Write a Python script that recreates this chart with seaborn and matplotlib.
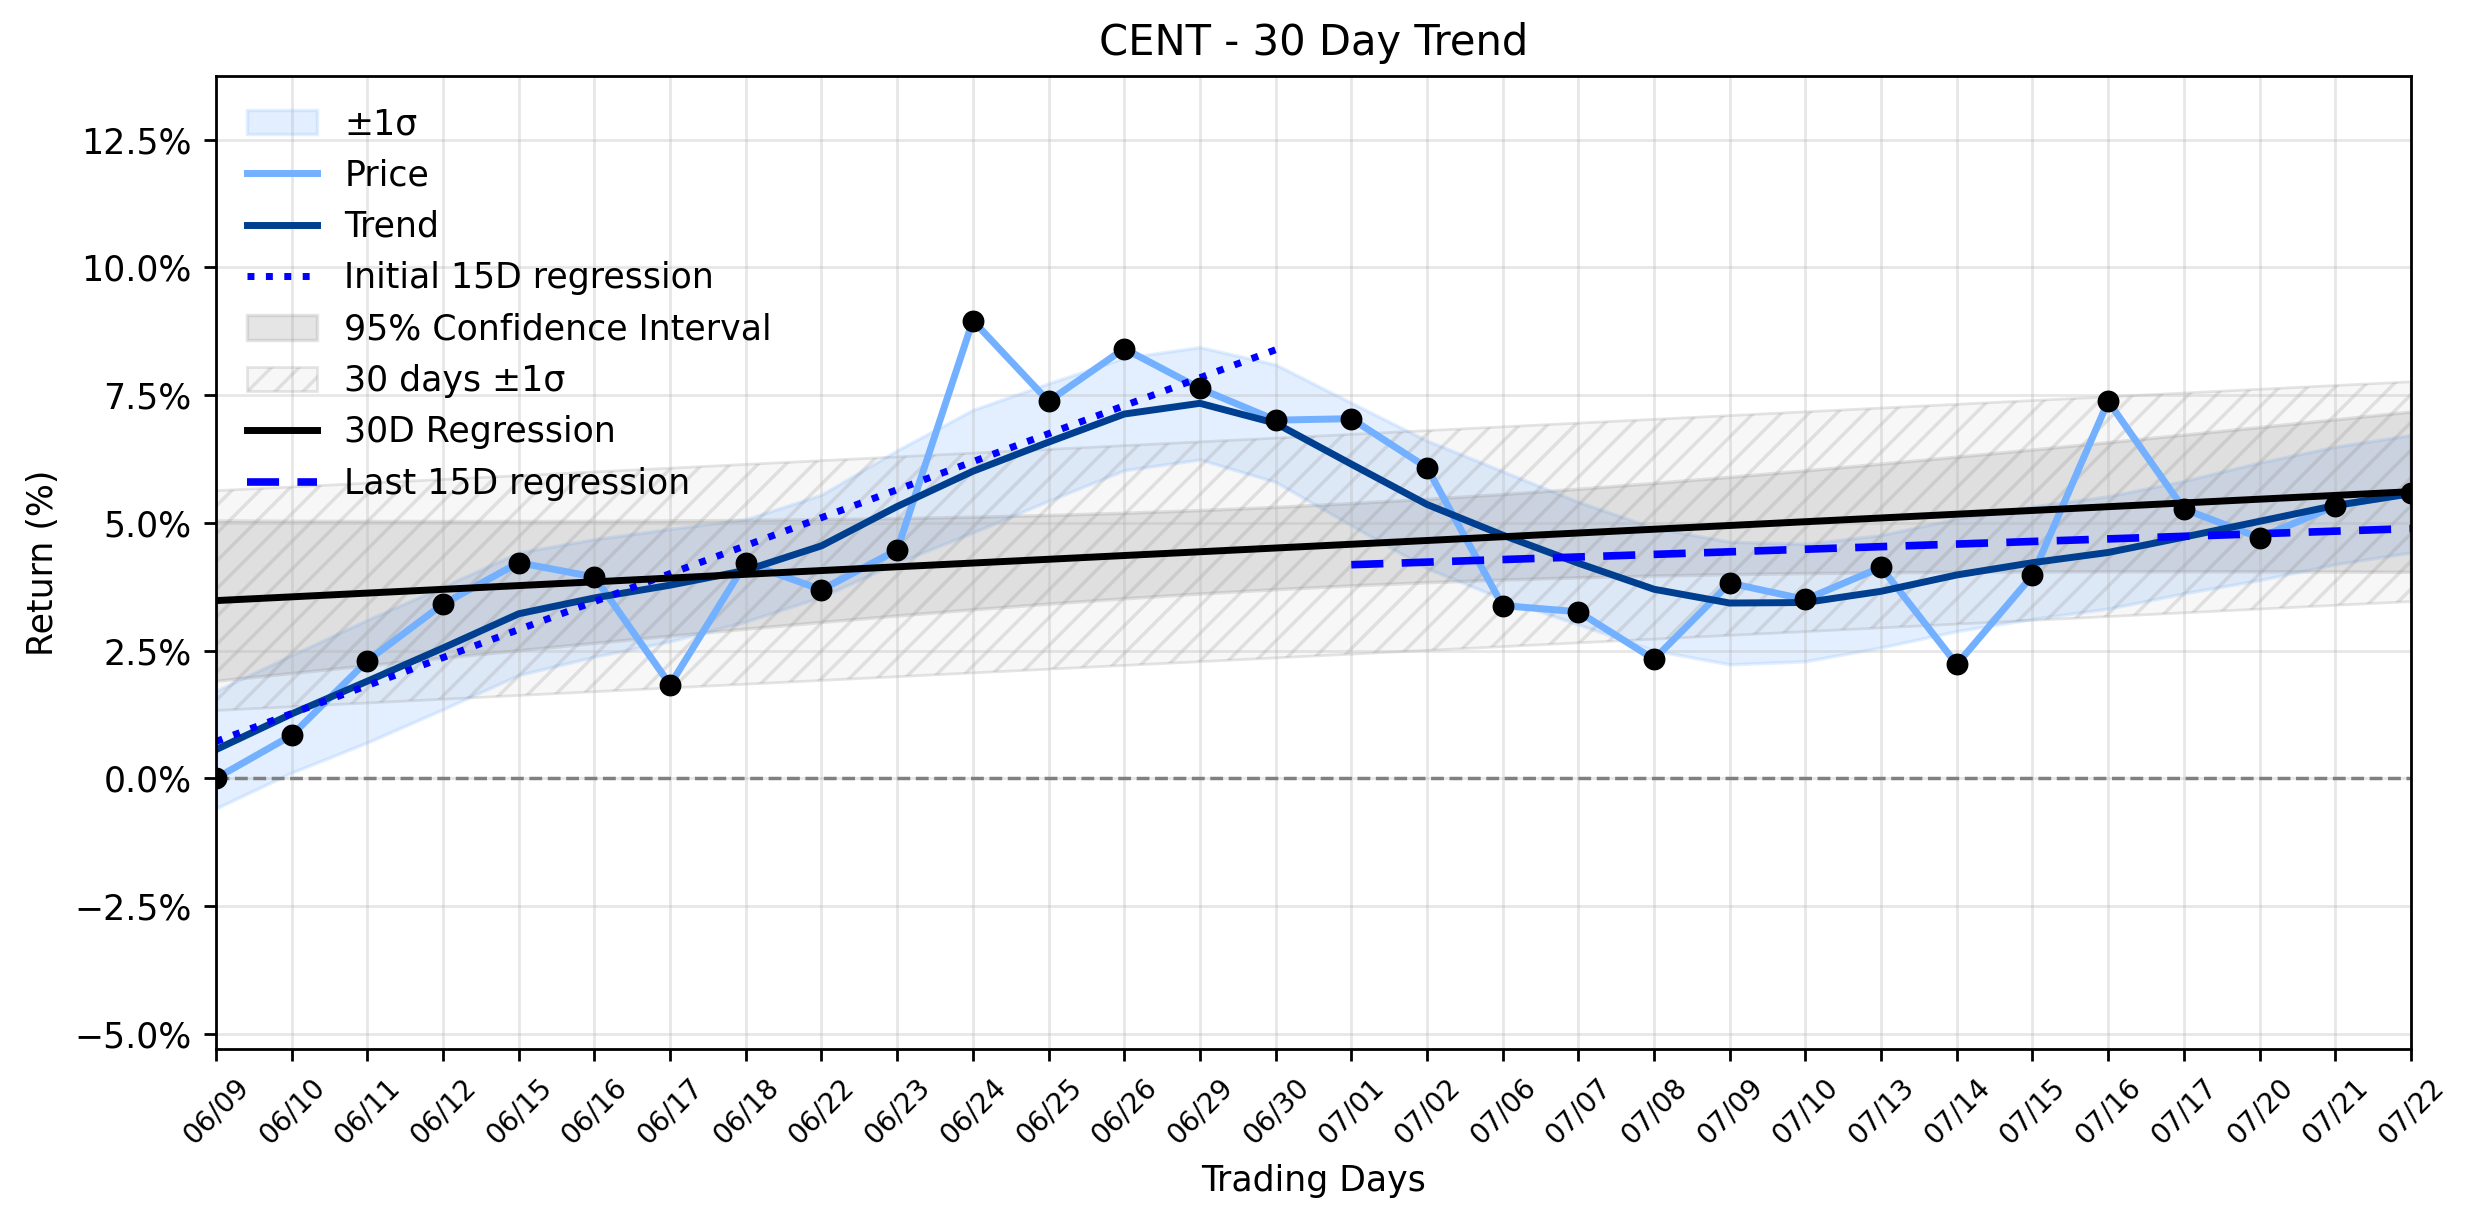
import numpy as np
import matplotlib
matplotlib.use("Agg")
import matplotlib.pyplot as plt
import seaborn as sns
from matplotlib.ticker import PercentFormatter, MultipleLocator

# Data (returns in %)
dates = ['06/09', '06/10', '06/11', '06/12', '06/15', '06/16', '06/17', '06/18', '06/22', '06/23',
         '06/24', '06/25', '06/26', '06/29', '06/30', '07/01', '07/02', '07/06', '07/07', '07/08',
         '07/09', '07/10', '07/13', '07/14', '07/15', '07/16', '07/17', '07/20', '07/21', '07/22']
price = [0.00, 0.84, 2.30, 3.41, 4.22, 3.94, 1.83, 4.22, 3.69, 4.47,
         8.96, 7.38, 8.41, 7.63, 7.01, 7.04, 6.08, 3.38, 3.26, 2.33,
         3.82, 3.50, 4.13, 2.23, 3.97, 7.38, 5.27, 4.71, 5.33, 5.58]
trend = [0.56, 1.26, 1.90, 2.55, 3.22, 3.53, 3.78, 4.07, 4.55, 5.32,
         6.01, 6.58, 7.13, 7.34, 6.95, 6.15, 5.36, 4.76, 4.21, 3.70,
         3.43, 3.44, 3.66, 3.98, 4.22, 4.42, 4.72, 5.03, 5.34, 5.57]
sigma = [1.15, 1.15, 1.2, 1.2, 1.2, 1.15, 1.1, 1.0, 1.0, 1.1,
         1.2, 1.15, 1.1, 1.1, 1.15, 1.2, 1.25, 1.25, 1.2, 1.2,
         1.2, 1.15, 1.1, 1.1, 1.1, 1.1, 1.1, 1.15, 1.15, 1.15]

x = np.arange(len(dates))
price = np.array(price)
trend = np.array(trend)
sigma = np.array(sigma)

price_color = '#73b0ff'
trend_color = '#003f8f'

fig = plt.figure(figsize=(2474 / 250, 1224 / 250), dpi=250)
ax = fig.add_subplot(111)
fig.subplots_adjust(left=0.0873, right=0.9745, top=0.938, bottom=0.143)

# +-1 sigma band around the trend
ax.fill_between(x, trend - sigma, trend + sigma, color=price_color, alpha=0.2, label='±1σ')
sns.lineplot(x=x, y=price, color=price_color, linewidth=2, label='Price', ax=ax)
sns.lineplot(x=x, y=trend, color=trend_color, linewidth=2, label='Trend', ax=ax)

# initial 15 day regression
x1 = x[:15]
m1, b1 = np.polyfit(x1, price[:15], 1)
sns.lineplot(x=x1, y=m1 * x1 + b1, color='blue', linewidth=2, linestyle=':',
             label='Initial 15D regression', ax=ax)

# 30 day regression + confidence interval
m, b = np.polyfit(x, price, 1)
fit = m * x + b
resid = price - fit
n = len(x)
s = np.sqrt(np.sum(resid ** 2) / (n - 2))
se = s * np.sqrt(1 / n + (x - x.mean()) ** 2 / np.sum((x - x.mean()) ** 2))
t = 2.048
ax.fill_between(x, fit - t * se, fit + t * se, color='gray', alpha=0.2,
                label='95% Confidence Interval')
ax.fill_between(x, fit - s, fit + s, facecolor=(0.5, 0.5, 0.5, 0.06),
                edgecolor=(0.5, 0.5, 0.5, 0.2), hatch='///', linewidth=0.8,
                label='30 days ±1σ')
sns.lineplot(x=x, y=fit, color='black', linewidth=2, label='30D Regression', ax=ax)

# last 15 day regression
x2 = x[15:]
m2, b2 = np.polyfit(x2, price[15:], 1)
sns.lineplot(x=x2, y=m2 * x2 + b2, color='blue', linewidth=2.2, linestyle=(0, (4.2, 2.4)),
             label='Last 15D regression', ax=ax)

sns.scatterplot(x=x, y=price, color='black', s=34, zorder=5, edgecolor='black',
                legend=False, ax=ax)
ax.axhline(0, color='gray', linestyle='--', linewidth=1)

ax.set_xlim(0, len(x) - 1)
ax.set_ylim(-5.3, 13.75)
ax.set_xticks(x)
ax.set_xticklabels(dates, rotation=45, fontsize=8)
ax.yaxis.set_major_locator(MultipleLocator(2.5))
ax.yaxis.set_major_formatter(PercentFormatter(xmax=100, decimals=1))
ax.grid(True, alpha=0.3)
ax.set_title('CENT - 30 Day Trend')
ax.set_xlabel('Trading Days')
ax.set_ylabel('Return (%)')
ax.legend(loc='upper left', frameon=False)

fig.savefig('out.png', dpi=250)
